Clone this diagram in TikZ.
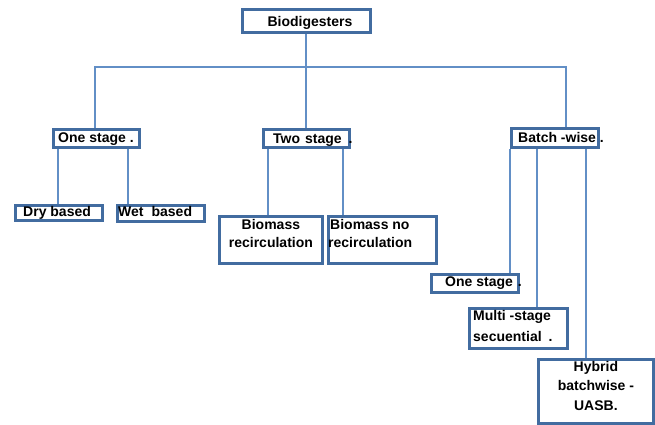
\documentclass[tikz,border=0pt]{standalone}
\usepackage{fontspec}
\setmainfont{Liberation Sans}
\definecolor{boxc}{RGB}{66,108,160}
\definecolor{linec}{RGB}{98,143,198}
\tikzset{
  box/.style={draw=boxc, line width=2.8pt, fill=white, inner sep=0pt, anchor=north west},
  conn/.style={draw=linec, line width=1.4pt},
  txt/.style={font=\bfseries\fontsize{14}{16}\selectfont, inner sep=0pt, text=black}
}
\begin{document}
\begin{tikzpicture}[x=1pt,y=-1pt]
\useasboundingbox (0,0) rectangle (655,424);
% boxes
\node[box, minimum width=128pt, minimum height=23pt] (bio) at (241,8) {};
\node[box, minimum width=86pt, minimum height=18pt] (one) at (52,128) {};
\node[box, minimum width=87pt, minimum height=15pt] (dry) at (14,204) {};
\node[box, minimum width=87pt, minimum height=16pt] (wet) at (116,204) {};
\node[box, minimum width=86pt, minimum height=18pt] (two) at (262,128) {};
\node[box, minimum width=103pt, minimum height=47pt] (bmr) at (218,215) {};
\node[box, minimum width=108pt, minimum height=47pt] (bmn) at (327,215) {};
\node[box, minimum width=87pt, minimum height=19pt] (batch) at (510,127) {};
\node[box, minimum width=87pt, minimum height=18pt] (os2) at (430,273) {};
\node[box, minimum width=98pt, minimum height=40pt] (ms) at (468,307) {};
\node[box, minimum width=115pt, minimum height=64pt] (hy) at (537,358) {};
% junction coordinates
\coordinate (j1) at (95,67);
\coordinate (j2) at (306,67);
\coordinate (j3) at (566,67);
\coordinate (c1) at (58,0);
\coordinate (c2) at (128,0);
\coordinate (c3) at (268,0);
\coordinate (c4) at (343,0);
\coordinate (c5) at (510,0);
\coordinate (c6) at (537,0);
\coordinate (c7) at (586,0);
% connectors
\draw[conn] (bio.south -| j2) -- (j2);
\draw[conn] (one.north -| j1) |- (j3) -- (batch.north -| j3);
\draw[conn] (j2) -- (two.north -| j2);
\draw[conn] (one.south -| c1) -- (dry.north -| c1);
\draw[conn] (one.south -| c2) -- (wet.north -| c2);
\draw[conn] (two.south -| c3) -- (bmr.north -| c3);
\draw[conn] (two.south -| c4) -- (bmn.north -| c4);
\draw[conn] (batch.south -| c5) -- (os2.north -| c5);
\draw[conn] (batch.south -| c6) -- (ms.north -| c6);
\draw[conn] (batch.south -| c7) -- (hy.north -| c7);
% texts
\node[txt, anchor=base] (tbio) at (310,26.7) {Biodigesters};
\node[txt, anchor=base west] (tone) at (58,142.3) {One stage .};
\node[txt, anchor=base west] (tdry) at (23,216) {Dry based};
\node[txt, anchor=base west] (twet) at (118,216) {Wet\hspace{8pt}based};
\node[txt, anchor=base west] (ttwo) at (273,143.3) {Two\hspace{5pt}stage\hspace{7pt}.};
\node[txt, anchor=base] (tbmr1) at (bmr.center |- 0,229) {Biomass};
\node[txt, anchor=base] (tbmr2) at (bmr.center |- 0,247.7) {recirculation};
\node[txt, anchor=base west] (tbmn1) at (330,229) {Biomass no};
\node[txt, anchor=base west] (tbmn2) at (328,247.7) {recirculation};
\node[txt, anchor=base west] (tbatch) at (518,142.3) {Batch -wise\hspace{4pt}.};
\node[txt, anchor=base west] (tos2) at (445,286) {One stage\hspace{5pt}.};
\node[txt, anchor=base west] (tms1) at (473,320) {Multi -stage};
\node[txt, anchor=base west] (tms2) at (473,341) {secuential\hspace{7pt}.};
\node[txt, anchor=base] (thy1) at (hy.center |- 0,371.7) {Hybrid};
\node[txt, anchor=base] (thy2) at (hy.center |- 0,390.7) {batchwise -};
\node[txt, anchor=base] (thy3) at (hy.center |- 0,410.7) {UASB.};
\end{tikzpicture}
\end{document}
